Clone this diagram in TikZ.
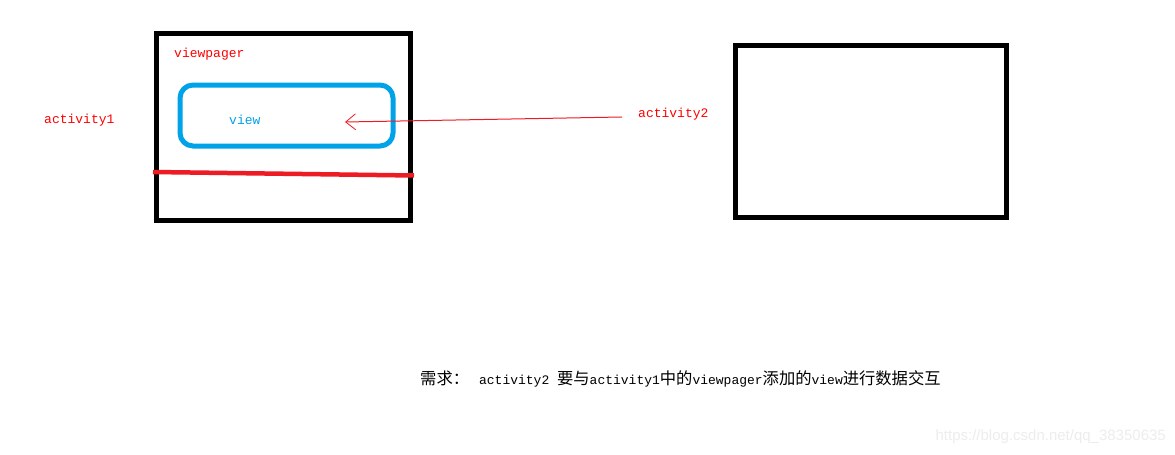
\documentclass[tikz,border=0pt]{standalone}
\usepackage{fontspec}
\setmainfont{Liberation Sans}
\setmonofont{Liberation Mono}
\newfontfamily\cjk{Noto Sans CJK SC}
\usetikzlibrary{arrows.meta}
\definecolor{pred}{HTML}{ED1C24}
\definecolor{tred}{HTML}{FF0000}
\definecolor{pblue}{HTML}{00A2E8}
\newcommand{\zh}[1]{{\cjk\fontsize{16.3}{16}\selectfont #1}}
\newcommand{\en}[1]{{\ttfamily #1}}
\tikzset{
  frame/.style={draw=black,line width=5pt},
  lab/.style={inner sep=0pt,font=\ttfamily\fontsize{13}{13}\selectfont},
}
\begin{document}
\begin{tikzpicture}[x=1pt,y=-1pt]
\useasboundingbox[fill=white] (0,0) rectangle (1175,455);
% frames
\draw[frame] (156.5,33.5) rectangle (410,220);
\draw[frame] (735,45.5) rectangle (1006,217);
% blue rounded view
\draw[draw=pblue,line width=5pt,rounded corners=13pt] (180,85) rectangle (393,146);
% red thick line
\coordinate (r1) at (153,172);
\coordinate (r2) at (414,175.5);
\draw[pred,line width=4.5pt] (r1) -- (r2);
% labels
\node[lab,text=tred,anchor=west] (vp) at (174,54) {viewpager};
\node[lab,text=pblue,anchor=west] (view) at (229,120) {view};
\node[lab,text=tred,anchor=west] (a1) at (44,120) {activity1};
\node[lab,text=tred,anchor=west] (a2) at (638,114) {activity2};
% arrow
\coordinate (tip) at (345,122);
\draw[pred,line width=1pt,-{Straight Barb[length=10pt,width=16pt,line width=0.8pt]}] ([xshift=-16pt,yshift=-3pt]a2.west) -- (tip);
% bottom text
\node[inner sep=0pt,anchor=west,font=\fontsize{13}{13}\selectfont] (req) at (420,379)
 {\zh{需求：}\hspace{10pt}\en{activity2 }\zh{要与}\en{activity1}\zh{中的}\en{viewpager}\zh{添加的}\en{view}\zh{进行数据交互}};
% watermark
\node[inner sep=0pt,anchor=east,text=black!7,font=\fontsize{15}{15}\selectfont] (wm) at (1166,437) {https://blog.csdn.net/qq\_38350635};
\end{tikzpicture}
\end{document}
